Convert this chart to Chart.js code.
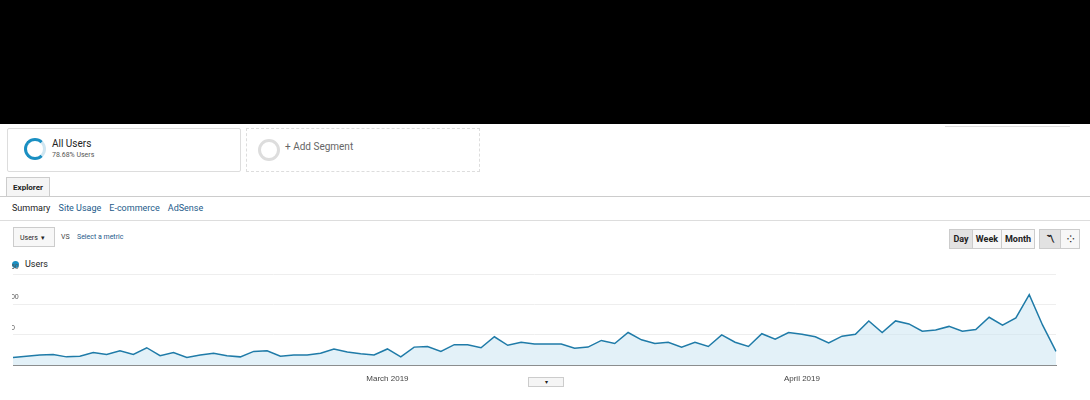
<!DOCTYPE html>
<html><head><meta charset="utf-8">
<script src="https://cdn.jsdelivr.net/npm/chart.js@4"></script>
<style>
body{margin:0;width:1090px;height:400px;background:#fff;font-family:Roboto,Arial,sans-serif;position:relative;overflow:hidden;color:#222}
.a{position:absolute}
.box{border:1px solid #ddd;border-radius:2px}
.btn{position:absolute;top:229px;height:18px;border:1px solid #ccc;background:#f7f7f7;font-size:9px;font-weight:bold;line-height:18px;text-align:center}
</style></head><body>
<div class="a" style="left:0;top:0;width:1090px;height:124px;background:#000"></div>
<div class="a box" style="left:7px;top:128px;width:232px;height:42px"></div>
<div class="a" style="left:24px;top:138px;width:16px;height:16px;border:3px solid #1a8fc2;border-radius:50%;border-right-color:#cfe6f1"></div>
<div class="a" style="left:52px;top:138px;font-size:10px">All Users</div>
<div class="a" style="left:52px;top:151px;font-size:7px;color:#555">78.68% Users</div>
<div class="a" style="left:246px;top:128px;width:232px;height:42px;border:1px dashed #ddd"></div>
<div class="a" style="left:258px;top:139px;width:16px;height:16px;border:3px solid #ddd;border-radius:50%"></div>
<div class="a" style="left:285px;top:141px;font-size:10px;color:#666">+ Add Segment</div>
<div class="a" style="left:945px;top:126px;width:125px;border-top:1px solid #ddd"></div>
<div class="a" style="left:6px;top:177px;width:42px;height:19px;border:1px solid #ccc;border-bottom:none;background:#f5f5f5;font-size:8px;font-weight:bold;line-height:19px;text-align:center">Explorer</div>
<div class="a" style="left:0;top:196px;width:1090px;border-top:1px solid #ccc"></div>
<div class="a" style="left:12px;top:203px;font-size:9px">Summary <span style="color:#245b8a;margin-left:6px">Site Usage</span><span style="color:#245b8a;margin-left:8px">E-commerce</span><span style="color:#245b8a;margin-left:8px">AdSense</span></div>
<div class="a" style="left:0;top:220px;width:1090px;border-top:1px solid #ddd"></div>
<div class="a" style="left:13px;top:227px;width:42px;height:20px;border:1px solid #ccc;background:#f7f7f7;font-size:7px;line-height:20px;padding-left:6px;box-sizing:border-box">Users &nbsp;▾</div>
<div class="a" style="left:61px;top:233px;font-size:7px;color:#444">VS</div>
<div class="a" style="left:77px;top:233px;font-size:7px;color:#245b8a">Select a metric</div>
<div class="btn" style="left:949px;width:22px;background:#e2e2e2">Day</div>
<div class="btn" style="left:972px;width:28px">Week</div>
<div class="btn" style="left:1001px;width:32px">Month</div>
<div class="btn" style="left:1039px;width:20px;background:#e2e2e2">〽</div>
<div class="btn" style="left:1060px;width:18px">⁘</div>
<div class="a" style="left:12px;top:261px;width:7px;height:7px;border-radius:50%;background:#1a8fc2"></div>
<div class="a" style="left:25px;top:259px;font-size:9px">Users</div>
<div class="a" style="left:528px;top:377px;width:34px;height:8px;border:1px solid #ccc;background:#f5f5f5;font-size:6px;text-align:center">▾</div>
<div class="a" style="left:12px;top:255px;width:1080px;height:130px"><canvas id="c"></canvas></div>
<script>
const labels=[];
for(let i=0;i<79;i++){const d=new Date(2019,1,1+i);labels.push(d.toISOString().slice(0,10));}
const users=[13,15,17,18,14,15,21,18,24,18,29,16,21,13,17,20,16,14,23,24,15,17,17,20,27,22,19,17,27,14,30,31,23,34,34,29,47,33,38,35,
35,35,28,30,41,36,54,42,36,38,30,38,31,50,38,31,52,43,54,51,47,37,48,51,73,54,73,68,56,58,64,56,59,79,66,78,116,66,23];
const tickText={28:'March 2019',59:'April 2019'};
new Chart(document.getElementById('c'),{type:'line',
data:{labels,datasets:[{data:users,borderColor:'#1f7ba8',borderWidth:1.5,backgroundColor:'rgba(200,228,242,0.5)',fill:true,pointRadius:0,tension:0}]},
options:{responsive:true,maintainAspectRatio:false,animation:false,
layout:{padding:{top:19,right:36,left:0,bottom:0}},
plugins:{legend:{display:false},tooltip:{enabled:false}},
scales:{
x:{offset:false,grid:{display:false},border:{color:'#888'},ticks:{autoSkip:false,maxRotation:0,font:{size:8},color:'#444',padding:1,callback:(v,i)=>tickText[i]||''}},
y:{min:0,max:150,afterBuildTicks:a=>{a.ticks=[{value:50},{value:100},{value:150}]},grid:{color:'#eee',drawTicks:false},border:{display:false},
ticks:{mirror:true,labelOffset:-7,padding:-2,font:{size:7},color:'#555'}}}}});
</script>
</body></html>
